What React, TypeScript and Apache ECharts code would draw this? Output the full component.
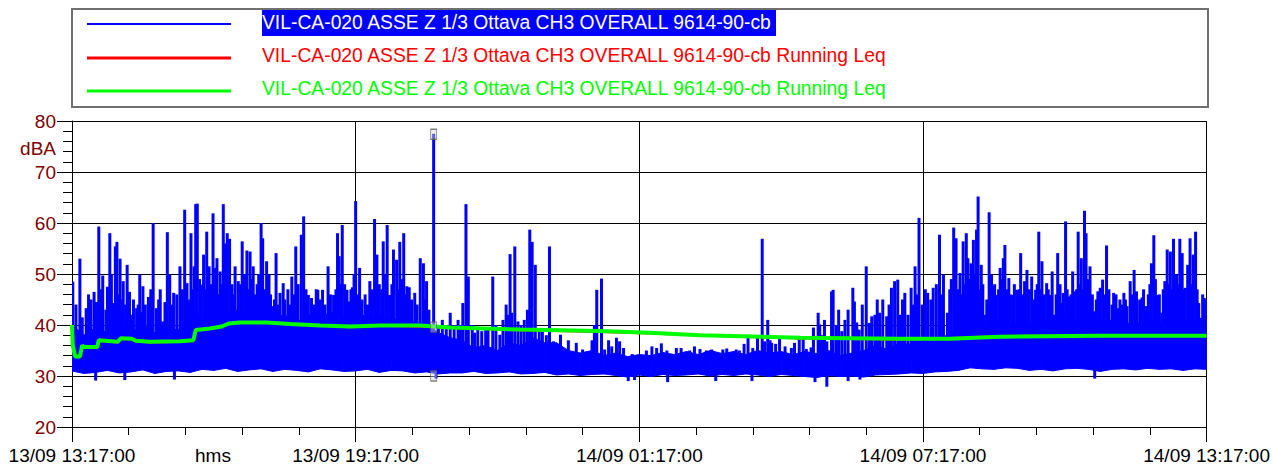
import React, { useEffect, useRef } from 'react';
import * as echarts from 'echarts';

const FONT = '"Liberation Sans", Arial, sans-serif';

const xTickLabels = ['13/09 13:17:00', '13/09 19:17:00', '14/09 01:17:00', '14/09 07:17:00', '14/09 13:17:00'];
const xUnitLabel = 'hms';
const yUnitLabel = 'dBA';
const seriesNames = [
  'VIL-CA-020 ASSE Z 1/3 Ottava CH3 OVERALL 9614-90-cb',
  'VIL-CA-020 ASSE Z 1/3 Ottava CH3 OVERALL 9614-90-cb Running Leq',
  'VIL-CA-020 ASSE Z 1/3 Ottava CH3 OVERALL 9614-90-cb Running Leq',
];

// minutes from 13/09 13:17:00; dense level band sampled every 15 minutes
const bandStepMin = 15;
const bandHigh = [
  40, 38, 39.5, 38.5, 40, 38.5, 40, 38.5, 39.5, 39, 42.5, 41, 43.5, 42, 43, 41.5, 42.5,
  41.5, 42, 40.5, 42, 41.5, 42.5, 41.5, 42.5, 41.5, 42, 41, 41.5, 40.5, 40, 38.5, 37.5,
  37, 35.5, 36, 35, 36.5, 36, 37.5, 36.5, 36.5, 35, 34.5, 35, 34, 34.5, 33.8, 34.2,
  34, 34.6, 34.2, 34.8, 34.2, 35, 34.4, 34.8, 34.2, 35, 34.5, 34.8, 34.2, 34.8, 34.4, 35,
  34, 34.5, 35, 36, 35.2, 36.4, 36.2, 37.4, 36.8, 38, 39, 40, 39.5, 40.5, 39.8, 40.5,
  40, 41, 40.6, 41.5, 40.8, 41.8, 40.4, 41, 40.2, 40.6, 39.8, 40.5, 40.2, 41.2, 40.5, 41,
];
const bandLow = [
  31, 30.5, 30.7, 31.1, 30.6, 30.8, 31.2, 30.5, 30.9, 31, 30.7, 31.3, 31.1, 31.5, 30.9, 31.2, 31.4,
  30.9, 31.3, 31.1, 30.8, 31.4, 31.2, 30.9, 31, 31.3, 30.7, 31.1, 31, 30.6, 30.8, 30.4, 30.6,
  30.6, 30.9, 30.5, 30.6, 30.8, 30.4, 30.5, 30.7, 30.2, 30.4, 30.1, 30.3, 30.4, 30.1, 29.8, 30.2,
  29.9, 30.3, 30.1, 30.2, 30.4, 30, 30.3, 30.1, 30.4, 30.2, 29.9, 30.3, 30.1, 29.9, 29.7, 30.1,
  29.9, 30, 29.8, 30.2, 30.3, 30.4, 30.6, 30.5, 30.8, 30.9, 31.1, 31.6, 31.4, 31.3, 31.6, 31.5,
  31.1, 31.3, 31, 31.4, 31.5, 31.3, 30.9, 31.3, 31.4, 31.2, 31.5, 31.3, 31.4, 31.1, 31.4, 31.3,
];

// peaks above the band: [minute, dBA]
const blueSpikes = [
  [1, 48.5], [10, 53], [18, 43.3], [24, 45], [28, 46.5], [34, 59.3], [39, 49.7], [43, 43], [48, 58], [52, 44.3],
  [55, 55.4], [57, 56.3], [61, 53], [65, 48.6], [70, 51.8], [75, 42], [82, 43.3], [86, 49.9], [90, 47.6], [103, 60],
  [107, 43.3], [112, 47], [115, 40.7], [121, 58.2], [124, 49.9], [129, 46.3], [137, 51.5], [143, 62.6], [146, 48.2],
  [151, 58], [155, 51.5], [157, 63.7], [159, 63.8], [164, 47.9], [167, 53.8], [171, 58.3], [174, 51.5], [179, 61.9],
  [181, 51.2], [184, 53.1], [188, 50.5], [192, 63.7], [194, 56], [197, 58], [200, 56.9], [207, 51.5], [211, 48.6],
  [216, 56.4], [222, 54.6], [226, 54.4], [230, 51.5], [232, 46], [240, 60],
  [5, 44], [13, 41.5], [21, 46], [31, 44.5], [37, 47], [45, 47.5], [50, 50], [59, 46], [63, 45], [68, 44],
  [73, 46.5], [78, 45], [84, 44], [88, 42.5], [93, 44], [97, 45.5], [100, 47], [110, 45], [118, 44.5], [127, 44],
  [133, 46], [140, 47], [149, 45], [153, 47], [162, 49], [169, 47], [177, 48], [186, 46], [190, 48], [196, 49],
  [203, 48], [205, 46], [214, 48], [219, 50], [224, 47], [228, 49], [235, 48], [237, 50],
  [242, 57], [247, 52.5], [250, 49.9], [255, 43.7], [259, 54.1], [264, 46.3], [268, 48.2], [279, 49.5], [284, 55.4],
  [291, 57.7], [294, 61.3], [300, 45.9], [304, 45.3], [312, 46.9], [318, 46.9], [321, 44], [325, 51.5], [332, 45.9],
  [337, 58], [339, 53.5], [343, 59.6], [349, 46.9], [352, 44.6], [356, 47.4], [360, 64.3], [365, 51.2], [378, 48.6],
  [384, 60.8], [387, 53.8], [395, 56.4], [400, 59.6], [403, 45.9], [408, 54.8], [412, 52.8], [416, 56.3], [421, 58],
  [425, 47.6], [428, 47.4], [435, 46.3], [442, 53.1], [446, 52.1], [450, 48.6], [459, 77.5], [480, 42.4],
  [245, 47], [252, 46], [257, 45], [262, 44], [270, 45], [274, 47], [277, 44], [282, 46], [287, 48], [297, 47],
  [307, 44], [310, 47], [315, 45], [328, 46], [335, 47], [341, 48], [346, 48], [354, 47], [358, 50], [363, 46],
  [368, 45], [372, 46], [375, 44], [381, 47], [390, 48], [393, 47], [398, 50], [406, 48], [414, 47], [419, 49],
  [423, 46], [431, 45], [438, 44], [448, 45], [453, 43], [465, 40], [470, 41], [475, 40],
  [490, 41], [496, 44.3], [500, 63.7], [503, 49.5], [515, 39.1], [520, 38.8], [528, 39.4], [534, 49.5], [543, 38.1],
  [551, 44], [556, 53.9], [558, 42.4], [562, 55.4], [566, 40.7], [578, 43], [581, 58.7], [584, 56.3], [588, 51.8],
  [593, 38.8], [606, 55.4], [611, 36.8], [620, 38.1], [648, 35.2], [656, 34.8], [666, 46.9], [672, 49.1], [676, 35.2],
  [685, 35.8], [691, 37.5], [695, 36.8], [711, 34.3],
  [485, 40], [493, 40], [508, 40], [511, 38.5], [525, 39], [538, 40], [547, 41], [553, 42], [570, 40], [574, 41],
  [597, 39], [602, 38], [630, 37], [640, 36.5], [660, 37], [663, 40], [681, 37], [700, 35.5],
  [729, 35], [742, 35.5], [748, 36.4], [767, 35.5], [784, 35], [790, 35.8], [797, 35.3], [805, 35], [812, 35.2],
  [831, 35.4], [843, 35.2], [847, 35], [858, 37.5], [864, 35.5], [876, 56.9], [879, 36.8], [883, 41], [888, 36.5],
  [893, 36.3], [905, 35.8], [913, 35.5], [923, 37.5], [932, 35.3], [938, 35.6], [947, 42.4], [949, 40.1], [958, 36.8],
  [964, 46.6],
  [736, 35.8], [755, 35], [773, 35.5], [826, 35.2], [853, 36.3], [870, 38], [886, 37], [898, 37.5], [917, 36.5],
  [928, 37.8], [941, 39.5], [952, 38], [955, 41],
  [966, 46.9], [977, 38.8], [991, 47.3], [993, 44.6], [999, 39.1], [1008, 51.5], [1012, 40.4], [1015, 41.7],
  [1025, 42.4], [1029, 45], [1034, 41.7], [1040, 47.3], [1044, 48.6], [1048, 48.9], [1051, 42], [1057, 46.3],
  [1061, 42], [1065, 47.3], [1070, 51.5], [1075, 61], [1079, 44], [1086, 46.3], [1093, 47.3], [1101, 57.7],
  [1106, 49.9], [1111, 42.4], [1119, 59.1], [1122, 57], [1127, 50.2], [1131, 56.4], [1135, 58], [1137, 53.1],
  [1141, 52.1], [1144, 56.7], [1148, 58.7], [1150, 65.2], [1154, 51.8], [1158, 42], [1164, 62.1], [1169, 47.6],
  [1173, 45.9], [1178, 51.2], [1182, 53.1], [1184, 55.7], [1189, 49.2], [1194, 45.9], [1199, 46.9], [1204, 54.1],
  [970, 40], [973, 43], [981, 41], [985, 43], [996, 40.5], [1003, 44], [1019, 42], [1022, 45], [1037, 44],
  [1054, 45], [1068, 44], [1072, 46], [1083, 47], [1090, 45], [1097, 48], [1104, 46], [1114, 47], [1116, 49],
  [1125, 47], [1129, 46], [1133, 48], [1139, 49], [1146, 50], [1152, 47], [1156, 48], [1161, 45], [1167, 50],
  [1171, 48], [1176, 47], [1180, 49], [1187, 47], [1191, 46], [1196, 48], [1202, 47],
  [1209, 48.6], [1212, 50.8], [1218, 49.5], [1223, 46.9], [1227, 58.3], [1231, 52.5], [1237, 48.2], [1241, 45.9],
  [1244, 50.5], [1247, 42], [1251, 54.1], [1256, 44.3], [1258, 46.3], [1261, 60.3], [1266, 45.6], [1270, 50.5],
  [1272, 46.6], [1277, 58.3], [1281, 53.1], [1285, 62.4], [1287, 58], [1292, 51.5], [1297, 42.7], [1302, 46.6],
  [1305, 47.3], [1308, 48.9], [1313, 55.6], [1322, 46.3], [1327, 43.3], [1335, 46.3], [1339, 43.7], [1343, 48.6],
  [1348, 50.8], [1351, 46.6], [1358, 45.4], [1363, 43.7], [1370, 52.1], [1373, 57.6], [1377, 45.9], [1383, 42.4],
  [1387, 48.6], [1390, 54.8], [1394, 54.4], [1398, 56.9], [1402, 49.9], [1406, 56.9], [1409, 54.1], [1413, 47.3],
  [1416, 51.8], [1419, 57], [1423, 53.8], [1426, 58.3], [1430, 44.3], [1433, 41.4], [1437, 45.3],
  [1207, 46], [1215, 47], [1221, 45], [1225, 48], [1229, 47], [1234, 46], [1239, 47], [1249, 46], [1254, 48],
  [1263, 47], [1268, 46], [1275, 47], [1279, 48], [1283, 47], [1290, 49], [1295, 46], [1300, 45], [1311, 46],
  [1316, 47], [1320, 44], [1325, 46], [1330, 45], [1333, 44], [1337, 45], [1346, 46], [1355, 45], [1360, 47],
  [1366, 46], [1368, 48], [1375, 49], [1380, 46], [1385, 47], [1392, 48], [1396, 47], [1400, 50], [1404, 48],
  [1411, 47], [1418, 49], [1421, 48], [1428, 47], [1435, 46], [1440, 45],
];

// dips below the band: [minute, dBA]
const blueDips = [
  [30, 29.1], [67, 29.2], [130, 29.3], [462, 29.5], [706, 29], [714, 29.2], [756, 28.8], [817, 29],
  [863, 29], [943, 28.8], [958, 27.9], [985, 29], [1000, 29.3], [1298, 29.5],
];

const leqRed = [
  [0, 40], [1, 36], [4, 33.8], [10, 33.8], [13, 36], [15, 35.6], [32, 35.6], [34, 36.9], [58, 36.6], [62, 37.3],
  [76, 37.2], [81, 36.8], [99, 36.6], [137, 36.7], [154, 36.9], [157, 38.9], [175, 39.3], [190, 39.7], [199, 40.3],
  [213, 40.5], [247, 40.5], [277, 40.2], [315, 39.9], [353, 39.6], [391, 39.9], [442, 39.7], [480, 39.5],
  [568, 39.0], [670, 38.7], [733, 38.4], [797, 38], [924, 37.4], [1050, 37.2], [1114, 37.4], [1177, 37.8],
  [1304, 38.0], [1440, 37.9],
];
const leqGreen = [
  [0, 40], [1, 36], [4, 33.8], [10, 33.8], [13, 36], [15, 35.7], [32, 35.7], [34, 37], [58, 36.7], [62, 37.4],
  [76, 37.3], [81, 36.9], [99, 36.7], [137, 36.8], [154, 37], [157, 39], [175, 39.3], [190, 39.7], [199, 40.3],
  [213, 40.5], [247, 40.5], [277, 40.2], [315, 39.9], [353, 39.7], [391, 39.9], [442, 39.9], [480, 39.5],
  [568, 39.1], [670, 38.8], [733, 38.5], [797, 38], [924, 37.5], [1050, 37.3], [1114, 37.3], [1177, 37.7],
  [1304, 37.9], [1440, 37.9],
];

// cursor readout markers at the max event
const cursorMarks = [[459, 77.4], [459, 39.6], [459, 30.0]];

const spikeBaseUp = 33;
const spikeBaseDown = 32;

export default function App() {
  const ref = useRef<HTMLDivElement>(null);

  useEffect(() => {
    document.body.style.margin = '0';
    if (!ref.current) return;
    const chart = echarts.init(ref.current, undefined, { renderer: 'svg' });

    const bandData = bandLow.map((v, i) => [i * bandStepMin, v, bandHigh[i]]);

    const bandRender = (params: any, api: any) => {
      const i = params.dataIndex;
      if (i >= bandData.length - 1) return null;
      const a = bandData[i];
      const b = bandData[i + 1];
      const p1 = api.coord([a[0], a[1]]);
      const p2 = api.coord([a[0], a[2]]);
      const p3 = api.coord([b[0], b[2]]);
      const p4 = api.coord([b[0], b[1]]);
      return {
        type: 'polygon',
        shape: { points: [p1, p2, p3, p4] },
        style: { fill: '#0000ff', stroke: '#0000ff', lineWidth: 1 },
      };
    };

    const spikeRender = (base: number) => (params: any, api: any) => {
      const t = api.value(0) as number;
      const v = api.value(1) as number;
      const a = api.coord([t, base]);
      const b = api.coord([t, v]);
      return {
        type: 'line',
        shape: { x1: a[0], y1: a[1], x2: b[0], y2: b[1] },
        style: { stroke: '#0000ff', lineWidth: 3 },
      };
    };

    const legendRows = [
      { y: 24, tY: 22, color: '#0000ff', lw: 2 },
      { y: 58, tY: 55, color: '#ff0000', lw: 3 },
      { y: 91, tY: 88, color: '#00ff00', lw: 3 },
    ];

    const graphic: any[] = [
      {
        type: 'rect',
        shape: { x: 72, y: 9, width: 1136, height: 98 },
        style: { fill: '#ffffff', stroke: '#707070', lineWidth: 2 },
      },
      {
        type: 'rect',
        shape: { x: 262, y: 10, width: 514, height: 26 },
        style: { fill: '#0000ff' },
      },
    ];
    legendRows.forEach((r, i) => {
      graphic.push({
        type: 'line',
        shape: { x1: 87, y1: r.y, x2: 231, y2: r.y },
        style: { stroke: r.color, lineWidth: r.lw },
      });
      graphic.push({
        type: 'text',
        x: 262,
        y: r.tY,
        scaleX: 0.92,
        style: {
          text: seriesNames[i],
          fill: i === 0 ? '#ffffff' : r.color,
          fontSize: 21,
          fontFamily: FONT,
          align: 'left',
          verticalAlign: 'middle',
        },
      });
    });
    graphic.push({
      type: 'text',
      x: 213,
      y: 455,
      style: { text: xUnitLabel, fill: '#000', fontSize: 19, fontFamily: FONT, align: 'center', verticalAlign: 'middle' },
    });
    graphic.push({
      type: 'text',
      x: 56,
      y: 148,
      style: { text: yUnitLabel, fill: '#800000', fontSize: 19, fontFamily: FONT, align: 'right', verticalAlign: 'middle' },
    });

    const option: any = {
      animation: false,
      backgroundColor: '#ffffff',
      grid: { left: 72, right: 66, top: 121, bottom: 40, containLabel: false },
      xAxis: {
        type: 'value',
        min: 0,
        max: 1440,
        interval: 360,
        axisLine: { show: true, onZero: false, lineStyle: { color: '#000', width: 1 } },
        axisTick: { show: true, length: 15, lineStyle: { color: '#000', width: 1 } },
        minorTick: { show: true, splitNumber: 5, length: 8, lineStyle: { color: '#000', width: 1 } },
        splitLine: { show: true, lineStyle: { color: '#000', width: 1 } },
        minorSplitLine: { show: false },
        axisLabel: {
          formatter: (v: number) => xTickLabels[Math.round(v / 360)] ?? '',
          fontSize: 19,
          fontFamily: FONT,
          color: '#000',
          margin: 19,
          showMinLabel: true,
          showMaxLabel: true,
          hideOverlap: false,
        },
      },
      yAxis: {
        type: 'value',
        min: 20,
        max: 80,
        interval: 10,
        axisLine: { show: true, onZero: false, lineStyle: { color: '#000', width: 1 } },
        axisTick: { show: true, length: 15, lineStyle: { color: '#000', width: 1 } },
        minorTick: { show: true, splitNumber: 5, length: 9, lineStyle: { color: '#000', width: 1 } },
        splitLine: { show: true, lineStyle: { color: '#000', width: 1 } },
        minorSplitLine: { show: false },
        axisLabel: { fontSize: 19, fontFamily: FONT, color: '#800000', margin: 16 },
      },
      graphic,
      series: [
        {
          name: seriesNames[0],
          type: 'custom',
          data: bandData,
          encode: { x: 0, y: [1, 2] },
          renderItem: bandRender,
          clip: true,
          silent: true,
          z: 2,
        },
        {
          name: seriesNames[0],
          type: 'custom',
          data: blueSpikes,
          encode: { x: 0, y: 1 },
          renderItem: spikeRender(spikeBaseUp),
          clip: true,
          silent: true,
          z: 3,
        },
        {
          name: seriesNames[0],
          type: 'custom',
          data: blueDips,
          encode: { x: 0, y: 1 },
          renderItem: spikeRender(spikeBaseDown),
          clip: true,
          silent: true,
          z: 3,
        },
        {
          name: seriesNames[1],
          type: 'line',
          data: leqRed,
          symbol: 'none',
          silent: true,
          lineStyle: { color: '#ff0000', width: 2.5 },
          z: 4,
        },
        {
          name: seriesNames[2],
          type: 'line',
          data: leqGreen,
          symbol: 'none',
          silent: true,
          lineStyle: { color: '#00ff00', width: 4 },
          z: 5,
        },
        {
          name: 'cursor',
          type: 'scatter',
          data: cursorMarks,
          symbol: 'rect',
          symbolSize: [6, 10],
          silent: true,
          itemStyle: { color: 'rgba(215,215,215,0.55)', borderColor: '#606060', borderWidth: 1 },
          z: 6,
        },
      ],
    };

    chart.setOption(option);
    return () => chart.dispose();
  }, []);

  return (
    <div
      ref={ref}
      style={{ position: 'absolute', left: 0, top: 0, width: 1273, height: 467, background: '#fff' }}
    />
  );
}
